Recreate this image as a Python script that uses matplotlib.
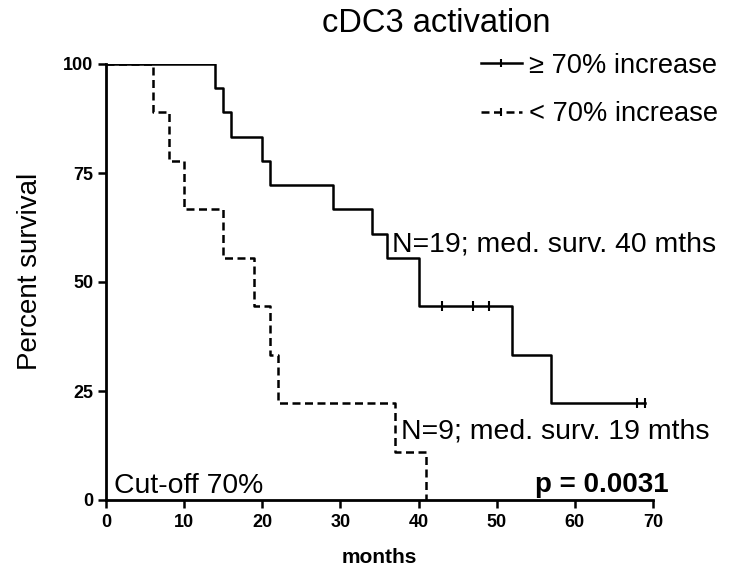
import numpy as np
import matplotlib
matplotlib.use("Agg")
import matplotlib.pyplot as plt
from matplotlib.lines import Line2D

plt.rcParams['font.family'] = ['Liberation Sans', 'DejaVu Sans']

# Kaplan-Meier steps, >= 70% increase group
hi_times = [0, 14, 15, 16, 20, 21, 29, 34, 36, 40, 52, 57, 69]
hi_surv = [100, 94.4, 88.9, 83.3, 77.8, 72.2, 66.7, 61.1, 55.6, 44.4, 33.3, 22.2, 22.2]
hi_censored = [43, 47, 49, 68, 69]

# Kaplan-Meier steps, < 70% increase group
lo_times = [0, 6, 8, 10, 15, 19, 21, 22, 37, 41]
lo_surv = [100, 88.9, 77.8, 66.7, 55.6, 44.4, 33.3, 22.2, 11.1, 0]
lo_censored = []

labels = ["\u2265 70% increase", "< 70% increase"]
x_ticks = [0, 10, 20, 30, 40, 50, 60, 70]
y_ticks = [0, 25, 50, 75, 100]


def surv_at(times, surv, t):
    idx = np.searchsorted(times, t, side="right") - 1
    return np.asarray(surv)[idx]


fig = plt.figure(figsize=(7.29, 5.67), dpi=100)
ax = fig.add_axes([106 / 729, 67 / 567, 547 / 729, 436 / 567])

lw = 1.8
dash = (0, (3.2, 1.8))
ax.step(hi_times, hi_surv, where="post", color="black", lw=lw)
ax.step(lo_times, lo_surv, where="post", color="black", lw=lw, ls=dash)
ax.plot(hi_censored, surv_at(hi_times, hi_surv, hi_censored), ls="none",
        marker="|", ms=6.5, mew=1.5, color="black")
if lo_censored:
    ax.plot(lo_censored, surv_at(lo_times, lo_surv, lo_censored), ls="none",
            marker="|", ms=6.5, mew=1.5, color="black")

ax.set_xlim(0, 70)
ax.set_ylim(0, 100)
ax.set_xticks(x_ticks)
ax.set_yticks(y_ticks)
for s in ("top", "right"):
    ax.spines[s].set_visible(False)
for s in ("left", "bottom"):
    ax.spines[s].set_linewidth(2)
ax.tick_params(width=1.8, length=6, labelsize=13)
ax.tick_params(axis="x", pad=4)
ax.tick_params(axis="y", pad=3)
for lab in ax.get_xticklabels() + ax.get_yticklabels():
    lab.set_fontweight("bold")

ax.set_xlabel("months", fontsize=15, fontweight="bold")
ax.xaxis.set_label_coords(0.5, -0.109)
ax.set_ylabel("Percent survival", fontsize=20)
ax.yaxis.set_label_coords(-0.115, 0.525)

fs = 20.4
ax.text(36.6, 56.9, "N=19; med. surv. 40 mths", fontsize=fs, va="baseline", ha="left")
ax.text(37.8, 14.2, "N=9; med. surv. 19 mths", fontsize=fs, va="baseline", ha="left")
ax.text(1.0, 1.7, "Cut-off 70%", fontsize=fs, va="baseline", ha="left")
ax.text(72, 1.8, "p = 0.0031", fontsize=20, fontweight="bold", va="baseline", ha="right")

fig.text(436 / 729, 1 - 32 / 567, "cDC3 activation", fontsize=23.5, ha="center", va="baseline")

handles = [
    Line2D([], [], color="black", lw=lw, marker="|", ms=5.5, mew=1.5),
    Line2D([], [], color="black", lw=lw, ls=dash, marker="|", ms=5.5, mew=1.5),
]
fig.legend(handles, labels, loc="upper left", bbox_to_anchor=(481 / 729, 1 - 53 / 567),
           frameon=False, fontsize=19.6, handlelength=1.5, handletextpad=0.27,
           labelspacing=0.82, numpoints=1, borderaxespad=0, borderpad=0)

fig.savefig("out.png", dpi=100)
